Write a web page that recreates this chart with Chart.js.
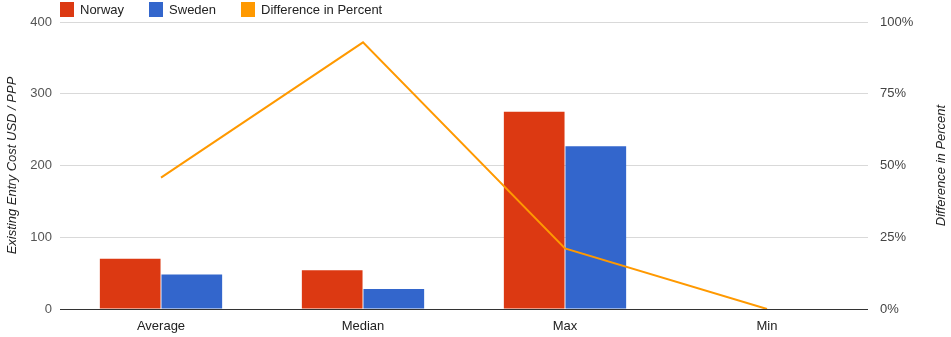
<!DOCTYPE html>
<html>
<head>
<meta charset="utf-8">
<script src="https://cdn.jsdelivr.net/npm/chart.js@4/dist/chart.umd.min.js"></script>
<style>
  html, body { margin: 0; padding: 0; background: #fff; }
  #wrap { position: relative; width: 951px; height: 337px; }
  #legend {
    position: absolute; left: 60px; top: 2px;
    display: flex; gap: 25px; align-items: center;
    font: 13px "Liberation Sans", Arial, sans-serif; color: #222;
  }
  .item { display: flex; align-items: center; }
  .box { width: 14px; height: 15px; margin-right: 6px; }
</style>
</head>
<body>
<div id="wrap">
  <canvas id="c" width="951" height="337"></canvas>
  <div id="legend"></div>
</div>
<script>
const categories = ['Average', 'Median', 'Max', 'Min'];
const norway = [70, 54, 275, 0];
const sweden = [48, 28, 227, 0];
const differencePct = [45.8, 92.9, 21.1, 0];
const costTicks = [0, 100, 200, 300, 400];
const pctTicks = [0, 25, 50, 75, 100];

const FONT = '"Liberation Sans", Arial, sans-serif';

// Builds the HTML legend from the datasets
const htmlLegend = {
  id: 'htmlLegend',
  afterUpdate(chart) {
    const el = document.getElementById('legend');
    el.innerHTML = '';
    chart.data.datasets.forEach(ds => {
      const item = document.createElement('div');
      item.className = 'item';
      const box = document.createElement('span');
      box.className = 'box';
      box.style.background = ds.legendColor;
      const txt = document.createElement('span');
      txt.textContent = ds.label;
      item.appendChild(box);
      item.appendChild(txt);
      el.appendChild(item);
    });
  }
};

// Right axis title reads bottom-to-top
const rightTitle = {
  id: 'rightTitle',
  afterDraw(chart) {
    const s = chart.scales.y1;
    const ctx = chart.ctx;
    ctx.save();
    ctx.translate(s.right - 10, (chart.chartArea.top + chart.chartArea.bottom) / 2);
    ctx.rotate(-Math.PI / 2);
    ctx.font = 'italic 13px ' + FONT;
    ctx.fillStyle = '#222';
    ctx.textAlign = 'center';
    ctx.textBaseline = 'middle';
    ctx.fillText('Difference in Percent', 0, 0);
    ctx.restore();
  }
};

new Chart(document.getElementById('c'), {
  data: {
    labels: categories,
    datasets: [
      {
        type: 'bar', label: 'Norway', data: norway, yAxisID: 'y',
        backgroundColor: '#DC3912', legendColor: '#DC3912', order: 1,
        categoryPercentage: 0.61, barPercentage: 0.985
      },
      {
        type: 'bar', label: 'Sweden', data: sweden, yAxisID: 'y',
        backgroundColor: '#3366CC', legendColor: '#3366CC', order: 1,
        categoryPercentage: 0.61, barPercentage: 0.985
      },
      {
        type: 'line', label: 'Difference in Percent', data: differencePct, yAxisID: 'y1',
        borderColor: '#FF9900', legendColor: '#FF9900', borderWidth: 2,
        pointRadius: 0, tension: 0, fill: false, order: 0
      }
    ]
  },
  options: {
    responsive: false,
    animation: false,
    layout: { padding: { top: 22, left: 0, right: 0, bottom: 0 } },
    plugins: {
      legend: { display: false },
      tooltip: { enabled: false }
    },
    scales: {
      x: {
        grid: { display: false },
        border: { display: false },
        ticks: { color: '#222', font: { family: FONT, size: 13 }, padding: 2 },
        afterFit(s) { s.height = 28; }
      },
      y: {
        position: 'left',
        min: 0, max: 400,
        afterBuildTicks(s) { s.ticks = costTicks.map(v => ({ value: v })); },
        grid: {
          drawTicks: false,
          color: ctx => (ctx.tick && ctx.tick.value === 0) ? '#333' : '#d9d9d9',
          lineWidth: 1
        },
        border: { display: false },
        ticks: { color: '#555', font: { family: FONT, size: 13 }, padding: 8 },
        title: {
          display: true, text: 'Existing Entry Cost USD / PPP', color: '#222',
          font: { family: FONT, size: 13, style: 'italic' }, padding: { top: 5, bottom: 0 }
        },
        afterFit(s) { s.width = 60; }
      },
      y1: {
        position: 'right',
        min: 0, max: 100,
        afterBuildTicks(s) { s.ticks = pctTicks.map(v => ({ value: v })); },
        grid: { display: false, drawTicks: false },
        border: { display: false },
        ticks: {
          color: '#444', font: { family: FONT, size: 13 }, padding: 12,
          callback: v => v + '%'
        },
        afterFit(s) { s.width = 83; }
      }
    }
  },
  plugins: [htmlLegend, rightTitle]
});
</script>
</body>
</html>
